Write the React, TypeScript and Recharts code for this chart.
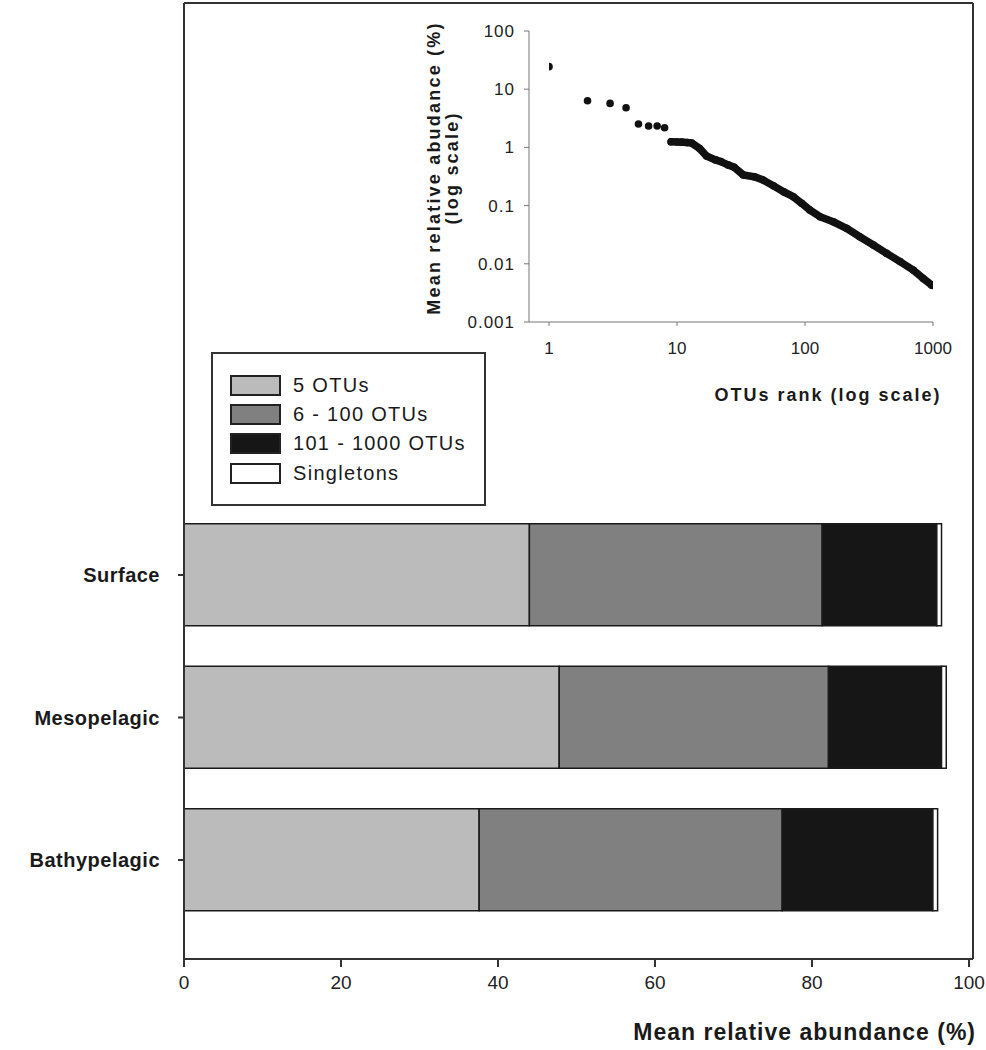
import React from "react";
import { BarChart, Bar, XAxis, YAxis, Legend, CartesianGrid, ComposedChart, Line } from "recharts";

const FONT = "'Liberation Sans', Arial, sans-serif";

// depth layers (main bar chart)
const layers = ["Surface", "Mesopelagic", "Bathypelagic"];
const top5 = [44.0, 47.8, 37.6];
const otus6to100 = [37.3, 34.3, 38.6];
const otus101to1000 = [14.6, 14.4, 19.2];
const singletons = [0.6, 0.6, 0.6];
const seriesKeys = ["top5", "mid", "rare", "single"];
const seriesNames = ["5 OTUs", "6 - 100 OTUs", "101 - 1000 OTUs", "Singletons"];
const seriesColors = ["#bbbbbb", "#808080", "#161616", "#ffffff"];
const pctTicks = [0, 20, 40, 60, 80, 100];

// rank-abundance curve (inset)
const headRanks = [1, 2, 3, 4, 5, 6, 7, 8];
const headAbund = [24.4, 6.35, 5.7, 4.8, 2.52, 2.33, 2.33, 2.18];
const tailRanks = [9, 10, 11, 12, 13, 15, 17, 20, 22, 25, 28, 33, 40, 47, 57, 68, 81, 94, 109, 131, 166, 211, 268, 342, 434, 553, 701, 838, 976];
const tailAbund = [1.25, 1.24, 1.23, 1.21, 1.19, 0.96, 0.71, 0.61, 0.57, 0.5, 0.455, 0.336, 0.314, 0.275, 0.217, 0.173, 0.142, 0.11, 0.084, 0.0645, 0.0528, 0.0407, 0.0292, 0.021, 0.0151, 0.0109, 0.0078, 0.0056, 0.0043];
const rankTicks = [1, 10, 100, 1000];
const abundTicks = [0.001, 0.01, 0.1, 1, 10, 100];

const barData = layers.map((name, i) => ({
  name,
  top5: top5[i],
  mid: otus6to100[i],
  rare: otus101to1000[i],
  single: singletons[i],
}));
const headData = headRanks.map((rank, i) => ({ rank, abund: headAbund[i] }));
const tailData = tailRanks.map((rank, i) => ({ rank, abund: tailAbund[i] }));

const frame = { stroke: "#333", strokeWidth: 2 };

const LegendBox = () => (
  <div
    style={{
      boxSizing: "border-box",
      width: 275,
      height: 154,
      border: "2px solid #333",
      background: "#fff",
      padding: "17px 0 0 17px",
      fontFamily: FONT,
      fontSize: 20,
      letterSpacing: 1.3,
      color: "#1a1a1a",
    }}
  >
    {seriesNames.map((n, i) => (
      <div key={n} style={{ display: "flex", alignItems: "center", height: 29.2 }}>
        <span
          style={{
            boxSizing: "border-box",
            width: 51,
            height: 21,
            background: seriesColors[i],
            border: "2px solid #222",
            display: "inline-block",
          }}
        />
        <span style={{ marginLeft: 12 }}>{n}</span>
      </div>
    ))}
  </div>
);

const BottomTitle = () => (
  <text x={976} y={1040} textAnchor="end" fontFamily={FONT} fontWeight="bold" fontSize={23} letterSpacing={1} fill="#1a1a1a">
    Mean relative abundance (%)
  </text>
);

const InsetXTitle = () => (
  <text x={828} y={401} textAnchor="middle" fontFamily={FONT} fontWeight="bold" fontSize={18} letterSpacing={2} fill="#1a1a1a">
    OTUs rank (log scale)
  </text>
);

const InsetYTitle = () => (
  <g fontFamily={FONT} fontWeight="bold" fontSize={18} letterSpacing={2.2} fill="#1a1a1a">
    <text transform="translate(434,168) rotate(-90)" textAnchor="middle" dominantBaseline="central">
      Mean relative abudance (%)
    </text>
    <text transform="translate(452,168) rotate(-90)" textAnchor="middle" dominantBaseline="central">
      (log scale)
    </text>
  </g>
);

export default function App() {
  return (
    <div style={{ position: "absolute", left: 0, top: 0, width: 986, height: 1050, background: "#fff" }}>
      <BarChart
        width={986}
        height={1050}
        layout="vertical"
        data={barData}
        margin={{ top: 3, right: 13, bottom: 31, left: 0 }}
        barSize={102}
      >
        {/* top and right edges of the frame */}
        <CartesianGrid horizontalPoints={[3]} verticalPoints={[973]} stroke="#333" strokeWidth={2} />
        <XAxis
          type="number"
          domain={[0, 100]}
          ticks={pctTicks}
          padding={{ left: 0, right: 4 }}
          height={60}
          tickSize={8}
          tickMargin={9}
          axisLine={frame}
          tickLine={frame}
          tick={{ fontSize: 19, fill: "#222", fontFamily: FONT }}
          label={{ content: BottomTitle }}
        />
        <YAxis
          type="category"
          dataKey="name"
          width={184}
          padding={{ top: 500.75, bottom: 27.75 }}
          tickSize={6}
          tickMargin={18}
          axisLine={frame}
          tickLine={frame}
          tick={{ fontSize: 20, fontWeight: "bold", fill: "#1a1a1a", fontFamily: FONT, letterSpacing: 0.5 }}
        />
        <Legend
          layout="vertical"
          align="center"
          verticalAlign="middle"
          wrapperStyle={{ left: 211, top: 352, width: 275, height: 154 }}
          content={LegendBox}
        />
        {seriesKeys.map((k, i) => (
          <Bar
            key={k}
            dataKey={k}
            name={seriesNames[i]}
            stackId="abund"
            fill={seriesColors[i]}
            stroke="#1a1a1a"
            strokeWidth={1.5}
            isAnimationActive={false}
          />
        ))}
      </BarChart>

      <div style={{ position: "absolute", left: 0, top: 0 }}>
        <ComposedChart width={986} height={420} margin={{ top: 31, right: 53, bottom: 0, left: 0 }}>
          <XAxis
            type="number"
            dataKey="rank"
            scale="log"
            domain={[1, 1000]}
            ticks={rankTicks}
            allowDataOverflow
            padding={{ left: 20, right: 0 }}
            height={98}
            tickSize={4}
            tickMargin={16}
            axisLine={{ stroke: "#777" }}
            tickLine={{ stroke: "#777" }}
            tick={{ fontSize: 17, fill: "#222", fontFamily: FONT }}
            label={{ content: InsetXTitle }}
          />
          <YAxis
            type="number"
            dataKey="abund"
            scale="log"
            domain={[0.001, 100]}
            ticks={abundTicks}
            allowDataOverflow
            width={529}
            tickSize={5}
            tickMargin={9}
            axisLine={{ stroke: "#777" }}
            tickLine={{ stroke: "#777" }}
            tick={{ fontSize: 17, fill: "#222", fontFamily: FONT, letterSpacing: 1 }}
            label={{ content: InsetYTitle }}
          />
          <Line
            data={tailData}
            dataKey="abund"
            stroke="#111"
            strokeWidth={7.6}
            strokeLinecap="round"
            strokeLinejoin="round"
            dot={{ r: 3.8, fill: "#111", stroke: "none" }}
            isAnimationActive={false}
          />
          <Line
            data={headData}
            dataKey="abund"
            stroke="none"
            dot={{ r: 3.8, fill: "#111", stroke: "none" }}
            isAnimationActive={false}
          />
        </ComposedChart>
      </div>
    </div>
  );
}
